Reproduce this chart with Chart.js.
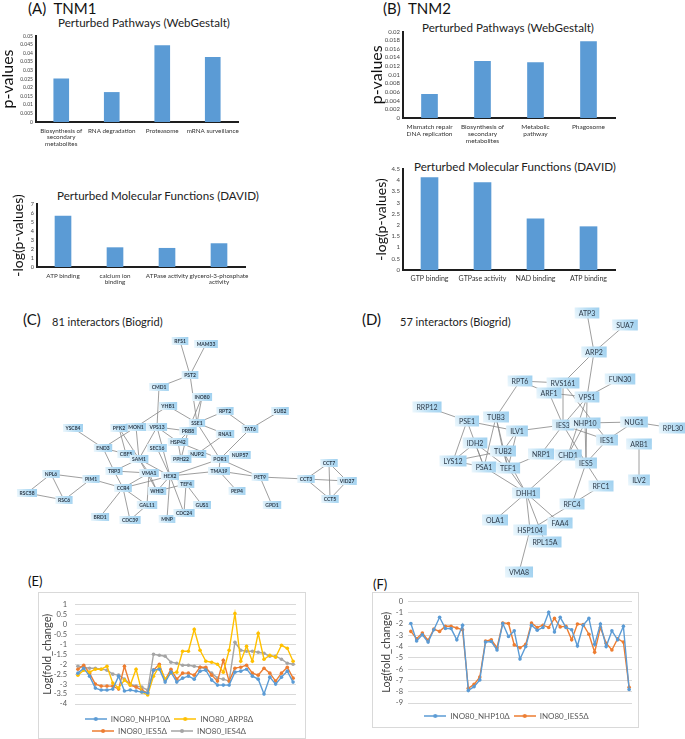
<!DOCTYPE html>
<html>
<head>
<meta charset="utf-8">
<script src="https://cdn.jsdelivr.net/npm/chart.js@4.4.0/dist/chart.umd.min.js"></script>
<style>
  html, body { margin: 0; padding: 0; background: #fff; }
  body { width: 685px; height: 739px; position: relative; overflow: hidden; font-family: Lato, "Open Sans", sans-serif; color: #222; }
  .t { position: absolute; white-space: nowrap; line-height: 1; }
  .panel { font-size: 15px; color: #111; }
  .ttl { font-size: 11.6px; color: #222; }
  .net { font-size: 11px; color: #222; }
  .frame { position: absolute; border: 1px solid #d9d9d9; box-sizing: border-box; }
  canvas { position: absolute; }
</style>
</head>
<body>

<div class="t panel" style="left:28px;top:1px">(A)&nbsp;&nbsp;TNM1</div>
<div class="t ttl" style="left:58px;top:17px">Perturbed Pathways (WebGestalt)</div>
<div class="t panel" style="left:383px;top:1px">(B)&nbsp;&nbsp;TNM2</div>
<div class="t ttl" style="left:422px;top:22px">Perturbed Pathways (WebGestalt)</div>
<div class="t ttl" style="left:57px;top:190px">Perturbed Molecular Functions (DAVID)</div>
<div class="t ttl" style="left:414px;top:161px">Perturbed Molecular Functions (DAVID)</div>

<div class="t panel" style="left:23px;top:312px">(C)</div>
<div class="t net" style="left:52px;top:316px">81 interactors (Biogrid)</div>
<div class="t panel" style="left:362px;top:312px">(D)</div>
<div class="t net" style="left:400px;top:316px">57 interactors (Biogrid)</div>

<div class="t panel" style="left:28px;top:575px;font-size:13px">(E)</div>
<div class="t panel" style="left:373px;top:578px;font-size:13px">(F)</div>

<div class="frame" style="left:38px;top:592px;width:268px;height:147px"></div>
<div class="frame" style="left:372px;top:592px;width:267px;height:136px"></div>

<canvas id="chart-a" width="250" height="125" style="left:0;top:30px"></canvas>
<canvas id="chart-b" width="265" height="125" style="left:360px;top:25px"></canvas>
<canvas id="chart-a2" width="260" height="110" style="left:0;top:190px"></canvas>
<canvas id="chart-b2" width="265" height="142" style="left:360px;top:158px"></canvas>
<canvas id="chart-c" width="360" height="200" style="left:0;top:330px"></canvas>
<canvas id="chart-d" width="345" height="290" style="left:340px;top:300px"></canvas>
<canvas id="chart-e" width="268" height="153" style="left:38px;top:592px"></canvas>
<canvas id="chart-f" width="267" height="138" style="left:372px;top:592px"></canvas>

<script>
// ---- datos ----
const pathA = [['Biosynthesis of', 'secondary', 'metabolites'], 'RNA degradation', 'Proteasome', 'mRNA surveillance'];
const pathAVals = [0.0251, 0.0172, 0.0444, 0.0376];

const pathB = [['Mismatch repair', 'DNA replication'], ['Biosynthesis of', 'secondary', 'metabolites'], ['Metabolic', 'pathway'], 'Phagosome'];
const pathBVals = [0.0055, 0.0131, 0.0128, 0.0177];

const funcA = ['ATP binding', ['calcium ion', 'binding'], 'ATPase activity', ['glycerol-3-phosphate', 'activity']];
const funcAVals = [5.65, 2.15, 2.08, 2.6];

const funcB = ['GTP binding', 'GTPase activity', 'NAD binding', 'ATP binding'];
const funcBVals = [4.12, 3.9, 2.28, 1.93];

// red (C): nombre, x, y
const nodesC = ['RFS1', 'MAM33', 'PST2', 'CMD1', 'INO80', 'YHB1', 'RPT2', 'SUB2', 'SSE1', 'MON1', 'PFK2', 'VPS13',
  'PRB8', 'TAT6', 'YSC84', 'RNA1', 'HSP42', 'SEC16', 'END3', 'CBF5', 'NUP2', 'NUP57', 'SAM1', 'PPH22', 'POR1',
  'TRP3', 'VMA1', 'HEX2', 'TMA19', 'PET9', 'NPL6', 'PIM1', 'CCT3', 'CCT7', 'VID27', 'CCT5', 'GPD1', 'CCR4',
  'TEF4', 'WHI3', 'PEP4', 'RSC58', 'RSC6', 'GAL11', 'GUS1', 'BRD1', 'CDC39', 'MNP', 'CDC24'];
const nodesCx = [180, 206, 190, 159, 202, 168, 225, 280, 197, 136, 119, 157,
  188, 250, 73, 225, 178, 157, 103, 126, 197, 240, 139, 181, 220,
  114, 149, 170, 219, 260, 51, 91, 306, 329, 347, 330, 272, 123,
  186, 157, 237, 27, 64, 147, 202, 100, 130, 167, 184];
const nodesCy = [341, 344, 375, 387, 397, 406, 411, 411, 423, 427, 428, 427,
  431, 429, 428, 434, 442, 448, 448, 454, 454, 455, 459, 459, 459,
  471, 473, 476, 471, 477, 474, 479, 479, 463, 481, 499, 505, 488,
  484, 491, 491, 493, 500, 505, 505, 517, 520, 519, 513];
const edgesC = [['RFS1', 'PST2'], ['MAM33', 'PST2'], ['PST2', 'CMD1'], ['PST2', 'SSE1'], ['INO80', 'SSE1'],
  ['INO80', 'PRB8'], ['CMD1', 'VPS13'], ['YHB1', 'SSE1'], ['YHB1', 'MON1'], ['RPT2', 'SSE1'], ['RPT2', 'TAT6'],
  ['SUB2', 'TAT6'], ['SSE1', 'POR1'], ['SSE1', 'RNA1'], ['SSE1', 'PRB8'], ['SSE1', 'HSP42'], ['TAT6', 'POR1'],
  ['MON1', 'END3'], ['MON1', 'SAM1'], ['PFK2', 'SAM1'], ['PFK2', 'CBF5'], ['VPS13', 'PRB8'], ['VPS13', 'SAM1'],
  ['VPS13', 'HEX2'], ['VPS13', 'HSP42'], ['YSC84', 'END3'], ['END3', 'TRP3'], ['END3', 'CBF5'], ['RNA1', 'NUP2'],
  ['HSP42', 'PPH22'], ['HSP42', 'POR1'], ['PRB8', 'PPH22'], ['SEC16', 'HEX2'], ['SAM1', 'TRP3'], ['SAM1', 'HEX2'],
  ['SAM1', 'VMA1'], ['SAM1', 'WHI3'], ['POR1', 'TMA19'], ['POR1', 'HEX2'], ['POR1', 'PET9'], ['TMA19', 'PEP4'],
  ['TMA19', 'PET9'], ['TMA19', 'HEX2'], ['TRP3', 'CCR4'], ['TRP3', 'VMA1'], ['PIM1', 'CCR4'], ['PIM1', 'NPL6'],
  ['PIM1', 'RSC6'], ['NPL6', 'RSC58'], ['NPL6', 'RSC6'], ['RSC58', 'RSC6'], ['VMA1', 'CCR4'], ['VMA1', 'GAL11'],
  ['VMA1', 'WHI3'], ['HEX2', 'CCR4'], ['HEX2', 'WHI3'], ['HEX2', 'TEF4'], ['HEX2', 'MNP'], ['HEX2', 'CDC24'],
  ['TEF4', 'GUS1'], ['TEF4', 'CDC24'], ['TEF4', 'WHI3'], ['CCR4', 'BRD1'], ['CCR4', 'CDC39'], ['CCR4', 'GAL11'],
  ['GAL11', 'CDC39'], ['PET9', 'CCT3'], ['PET9', 'GPD1'], ['CCT3', 'CCT7'], ['CCT3', 'VID27'], ['CCT3', 'CCT5'],
  ['CCT7', 'VID27'], ['CCT7', 'CCT5'], ['VID27', 'CCT5']];

// red (D)
const nodesD = ['ATP3', 'SUA7', 'ARP2', 'RPT6', 'RVS161', 'FUN30', 'ARF1', 'VPS1', 'RRP12', 'PSE1', 'TUB3', 'IES3',
  'NHP10', 'NUG1', 'RPL30', 'ILV1', 'IES1', 'ARB1', 'IDH2', 'TUB2', 'NRP1', 'CHD1', 'LYS12', 'PSA1', 'TEF1',
  'IES5', 'ILV2', 'RFC1', 'DHH1', 'RFC4', 'OLA1', 'FAA4', 'HSP104', 'RPL15A', 'VMA8'];
const nodesDx = [587, 625, 594, 520, 563, 620, 549, 587, 427, 467, 496, 563,
  585, 634, 673, 517, 607, 639, 475, 503, 541, 568, 453, 484, 508,
  586, 639, 601, 526, 572, 495, 560, 530, 545, 519];
const nodesDy = [313, 325, 352, 381, 383, 379, 393, 397, 407, 421, 417, 425,
  423, 422, 428, 431, 440, 444, 443, 451, 454, 455, 461, 467, 468,
  463, 480, 486, 493, 504, 520, 523, 530, 542, 572];
const edgesD = [['ATP3', 'ARP2'], ['SUA7', 'ARP2'], ['ARP2', 'RVS161'], ['ARP2', 'VPS1'], ['RPT6', 'RVS161'],
  ['RPT6', 'ARF1'], ['RPT6', 'TUB3'], ['RVS161', 'IES3'], ['RVS161', 'IES1'], ['ARF1', 'VPS1'], ['ARF1', 'IES3'],
  ['FUN30', 'VPS1'], ['VPS1', 'IES3'], ['VPS1', 'CHD1'], ['VPS1', 'IES5'], ['RRP12', 'PSE1'], ['PSE1', 'ILV1'],
  ['PSE1', 'LYS12'], ['PSE1', 'PSA1'], ['TUB3', 'TUB2'], ['TUB3', 'PSA1'], ['TUB3', 'TEF1'], ['ILV1', 'IES3'],
  ['ILV1', 'TUB2'], ['ILV1', 'TEF1'], ['IES3', 'NHP10'], ['IES3', 'NRP1'], ['IES3', 'IES5'], ['IES3', 'IES1'],
  ['NHP10', 'NUG1'], ['NHP10', 'IES5'], ['NHP10', 'CHD1'], ['NUG1', 'RPL30'], ['NUG1', 'IES1'], ['IES1', 'IES5'],
  ['ARB1', 'ILV2'], ['IDH2', 'LYS12'], ['IDH2', 'TEF1'], ['IDH2', 'PSA1'], ['TUB2', 'LYS12'], ['TUB2', 'DHH1'],
  ['LYS12', 'PSA1'], ['PSA1', 'DHH1'], ['TEF1', 'DHH1'], ['TUB2', 'TEF1'], ['NRP1', 'TEF1'], ['CHD1', 'DHH1'],
  ['IES5', 'RFC1'], ['IES5', 'RFC4'], ['RFC1', 'RFC4'], ['RFC4', 'HSP104'], ['DHH1', 'OLA1'], ['DHH1', 'FAA4'],
  ['DHH1', 'HSP104'], ['DHH1', 'RPL15A'], ['HSP104', 'VMA8']];

// (E) log fold change
const eNhp10 = [-2.45, -2.2, -2.6, -3.2, -3.3, -3.3, -3.25, -2.6, -3.35, -3.3, -3.35, -3.4, -3.45,
  -2.3, -2.25, -2.9, -2.4, -2.9, -2.7, -2.6, -2.75, -2.35, -2.3, -2.8, -3.05, -3.05, -3.05,
  -2.4, -2.35, -2.25, -2.6, -2.75, -3.5, -2.65, -3.0, -2.65, -2.35, -2.9];
const eArp8 = [-2.55, -2.3, -2.4, -2.25, -2.25, -2.1, -2.95, -3.2, -2.8, -3.05, -2.25, -3.4, -3.55,
  -2.6, -2.1, -2.75, -2.45, -2.4, -1.35, -1.35, -0.25, -1.3, -1.85, -1.9, -2.0, -2.4, -1.3,
  0.55, -1.85, -1.1, -1.85, -0.45, -1.75, -1.55, -1.65, -1.05, -1.2, -1.85];
const eIes5 = [-2.25, -2.05, -2.45, -3.0, -3.1, -3.1, -3.1, -3.25, -2.1, -3.05, -3.15, -3.3, -3.45,
  -2.3, -2.0, -2.8, -2.25, -2.75, -2.45, -2.45, -2.55, -2.15, -2.15, -2.55, -2.85, -1.8, -2.85,
  -2.2, -2.15, -2.05, -2.45, -2.55, -2.2, -2.45, -2.85, -2.45, -2.15, -2.7];
const eIes4 = [-2.1, -2.15, -2.2, -2.2, -2.25, -2.3, -2.5, -2.55, -2.75, -3.0, -3.1, -3.15, -3.3,
  -1.5, -1.55, -1.6, -1.9, -1.95, -2.05, -2.05, -2.1, -2.15, -2.25, -2.45, -2.7, -2.75, -2.85,
  -0.9, -1.3, -1.35, -1.35, -1.4, -1.45, -1.6, -1.6, -1.75, -1.95, -2.0];

// (F)
const fNhp10 = [-1.95, -3.5, -2.95, -3.6, -2.5, -1.4, -2.4, -2.4, -3.4, -2.1, -7.9, -7.55, -6.95,
  -3.6, -3.55, -4.3, -1.95, -3.1, -2.6, -5.1, -4.0, -2.1, -2.55, -2.3, -0.95, -2.7, -1.4,
  -2.3, -2.5, -3.95, -2.1, -1.5, -3.8, -2.0, -4.0, -2.6, -3.4, -2.2, -7.8];
const fIes5 = [-2.65, -3.3, -2.8, -3.45, -2.45, -2.65, -2.2, -2.2, -2.35, -2.5, -7.7, -7.35, -6.7,
  -3.5, -3.4, -4.1, -1.9, -1.95, -3.85, -4.1, -3.8, -1.9, -2.3, -2.1, -2.3, -1.5, -2.25,
  -2.2, -3.4, -2.0, -2.05, -2.9, -4.5, -2.3, -3.7, -4.3, -3.3, -3.6, -7.6];

const FONT = 'Lato, "Open Sans", sans-serif';
const BAR_BLUE = '#5b9bd5';
const AXIS = '#1e1e1e';
const COLORS = { blue: '#5b9bd5', orange: '#ed7d31', gray: '#a5a5a5', gold: '#ffc000' };

const cleanNum = v => String(+(+v).toFixed(4));

/**
 * Grafico de barras con ejes negros (estilo de los paneles A y B)
 */
function barChart(id, labels, values, o) {
    return new Chart(document.getElementById(id), {
        type: 'bar',
        data: {
            labels: labels,
            datasets: [{ data: values, backgroundColor: BAR_BLUE, barThickness: o.bar }]
        },
        options: {
            responsive: false,
            animation: false,
            layout: { padding: o.pad },
            plugins: { legend: { display: false }, tooltip: { enabled: false } },
            scales: {
                x: {
                    grid: { display: false, drawTicks: false },
                    border: { display: true, color: AXIS, width: 2 },
                    ticks: { font: { family: FONT, size: o.catSize, lineHeight: 1.1 }, color: '#333', padding: 5, maxRotation: 0, autoSkip: false },
                    afterFit: s => { s.height = o.xh; }
                },
                y: {
                    min: 0,
                    max: o.max,
                    grid: { display: false, drawTicks: false },
                    border: { display: true, color: AXIS, width: 2 },
                    ticks: { stepSize: o.step, autoSkip: false, font: { family: FONT, size: o.tickSize }, color: '#444', padding: 3, callback: cleanNum },
                    title: { display: true, text: o.ytitle, font: { family: FONT, size: o.titleSize, lineHeight: 1 }, padding: 0, color: '#111' },
                    afterFit: s => { s.width = o.yw; }
                }
            }
        }
    });
}

/**
 * Plugin para dibujar la red: aristas y cajas de nodos
 */
const networkPlugin = {
    id: 'network',
    beforeDatasetsDraw(chart) {
        const ds = chart.data.datasets[0];
        const { ctx, scales: { x, y } } = chart;
        ctx.save();
        ctx.strokeStyle = '#858585';
        ctx.lineWidth = 0.8;
        ds.edges.forEach(([a, b]) => {
            const p = ds.data[ds.names.indexOf(a)];
            const q = ds.data[ds.names.indexOf(b)];
            if (!p || !q) return;
            ctx.beginPath();
            ctx.moveTo(x.getPixelForValue(p.x), y.getPixelForValue(p.y));
            ctx.lineTo(x.getPixelForValue(q.x), y.getPixelForValue(q.y));
            ctx.stroke();
        });
        ctx.restore();
    },
    afterDatasetsDraw(chart) {
        const ds = chart.data.datasets[0];
        const { ctx, scales: { x, y } } = chart;
        ctx.save();
        ctx.font = `${ds.fontWeight} ${ds.fontSize}px ${FONT}`;
        ctx.textAlign = 'center';
        ctx.textBaseline = 'middle';
        ds.data.forEach((p, i) => {
            const px = x.getPixelForValue(p.x);
            const py = y.getPixelForValue(p.y);
            const w = ctx.measureText(ds.names[i]).width + ds.boxPad;
            const h = ds.boxH;
            const g = ctx.createLinearGradient(px - w / 2, py + h / 2, px + w / 2, py - h / 2);
            g.addColorStop(0, '#eef8fd');
            g.addColorStop(0.55, '#b9def4');
            g.addColorStop(1, '#9fd0ef');
            ctx.fillStyle = g;
            ctx.fillRect(px - w / 2, py - h / 2, w, h);
            ctx.fillStyle = '#2d3b4a';
            ctx.fillText(ds.names[i], px, py + 0.5);
        });
        ctx.restore();
    }
};

function networkChart(id, names, xs, ys, edges, o) {
    return new Chart(document.getElementById(id), {
        type: 'scatter',
        data: {
            datasets: [{
                data: names.map((_, i) => ({ x: xs[i], y: ys[i] })),
                names: names,
                edges: edges,
                pointRadius: 0,
                fontSize: o.fontSize,
                fontWeight: o.fontWeight,
                boxPad: o.boxPad,
                boxH: o.boxH
            }]
        },
        options: {
            responsive: false,
            animation: false,
            layout: { padding: 0 },
            plugins: { legend: { display: false }, tooltip: { enabled: false } },
            scales: {
                x: { type: 'linear', display: false, min: o.x0, max: o.x1 },
                y: { type: 'linear', display: false, min: o.y0, max: o.y1, reverse: true }
            }
        },
        plugins: [networkPlugin]
    });
}

/**
 * Marcador de leyenda estilo Excel: linea con punto
 */
function legendMarker(color) {
    const c = document.createElement('canvas');
    c.width = 22;
    c.height = 6;
    const g = c.getContext('2d');
    g.strokeStyle = color;
    g.lineWidth = 1.5;
    g.beginPath(); g.moveTo(0, 3); g.lineTo(22, 3); g.stroke();
    g.fillStyle = color;
    g.beginPath(); g.arc(11, 3, 2, 0, Math.PI * 2); g.fill();
    return c;
}

function lineChart(id, series, o) {
    const markers = series.map(s => legendMarker(s.color));
    return new Chart(document.getElementById(id), {
        type: 'line',
        data: {
            labels: series[0].data.map((_, i) => i + 1),
            datasets: series.map(s => ({
                label: s.label,
                data: s.data,
                borderColor: s.color,
                backgroundColor: s.color,
                borderWidth: 1.4,
                pointRadius: 1.8,
                pointBorderWidth: 0,
                tension: 0
            }))
        },
        options: {
            responsive: false,
            animation: false,
            layout: { padding: o.pad },
            plugins: {
                tooltip: { enabled: false },
                legend: {
                    position: 'bottom',
                    labels: {
                        usePointStyle: true,
                        pointStyleWidth: 22,
                        padding: 4,
                        color: '#595959',
                        font: { family: FONT, size: 8 },
                        generateLabels: chart => Chart.defaults.plugins.legend.labels.generateLabels(chart)
                            .map((item, i) => Object.assign(item, { pointStyle: markers[i] }))
                    }
                }
            },
            scales: {
                x: {
                    offset: true,
                    grid: { display: false, drawTicks: false },
                    border: { display: false },
                    ticks: { display: false },
                    afterFit: s => { s.height = o.xh; }
                },
                y: {
                    min: o.min,
                    max: o.max,
                    grid: { color: '#d9d9d9', drawTicks: false },
                    border: { display: false },
                    ticks: { stepSize: o.step, autoSkip: false, font: { family: FONT, size: 7.5 }, color: '#595959', padding: o.tickPad, callback: cleanNum },
                    title: { display: true, text: 'Log(fold_change)', font: { family: FONT, size: 11, lineHeight: 1 }, padding: 0, color: '#404040' },
                    afterFit: s => { s.width = o.yw; }
                }
            }
        }
    });
}

barChart('chart-a', pathA, pathAVals, {
    pad: { top: 5, right: 12, left: 0, bottom: 0 }, xh: 33, yw: 36, bar: 15,
    max: 0.05, step: 0.005, tickSize: 5, catSize: 6.3, ytitle: 'p-values', titleSize: 16
});
barChart('chart-b', pathB, pathBVals, {
    pad: { top: 5, right: 10, left: 9, bottom: 0 }, xh: 32, yw: 34, bar: 16,
    max: 0.02, step: 0.002, tickSize: 6, catSize: 6.5, ytitle: 'p-values', titleSize: 16
});
barChart('chart-a2', funcA, funcAVals, {
    pad: { top: 14, right: 15, left: 11, bottom: 0 }, xh: 33, yw: 26, bar: 16,
    max: 7, step: 1, tickSize: 5.5, catSize: 6.3, ytitle: '-log(p-values)', titleSize: 14
});
barChart('chart-b2', funcB, funcBVals, {
    pad: { top: 11, right: 10, left: 14, bottom: 0 }, xh: 30, yw: 29, bar: 17,
    max: 4.5, step: 0.5, tickSize: 6, catSize: 7, ytitle: '-log(p-values)', titleSize: 14
});

networkChart('chart-c', nodesC, nodesCx, nodesCy, edgesC, {
    x0: 0, x1: 360, y0: 330, y1: 530, fontSize: 5, fontWeight: 'bold', boxPad: 5, boxH: 8
});
networkChart('chart-d', nodesD, nodesDx, nodesDy, edgesD, {
    x0: 340, x1: 685, y0: 300, y1: 590, fontSize: 7, fontWeight: 'normal', boxPad: 8, boxH: 11
});

lineChart('chart-e', [
    { label: 'INO80_NHP10\u0394', data: eNhp10, color: COLORS.blue },
    { label: 'INO80_ARP8\u0394', data: eArp8, color: COLORS.gold },
    { label: 'INO80_IES5\u0394', data: eIes5, color: COLORS.orange },
    { label: 'INO80_IES4\u0394', data: eIes4, color: COLORS.gray }
], { pad: { top: 10, right: 10, left: 4, bottom: 0 }, xh: 7, yw: 33, min: -4, max: 1, step: 0.5, tickPad: 8 });

lineChart('chart-f', [
    { label: 'INO80_NHP10\u0394', data: fNhp10, color: COLORS.blue },
    { label: 'INO80_IES5\u0394', data: fIes5, color: COLORS.orange }
], { pad: { top: 9, right: 7, left: 9, bottom: 0 }, xh: 5, yw: 27, min: -9, max: 0, step: 1, tickPad: 5 });
</script>
</body>
</html>
